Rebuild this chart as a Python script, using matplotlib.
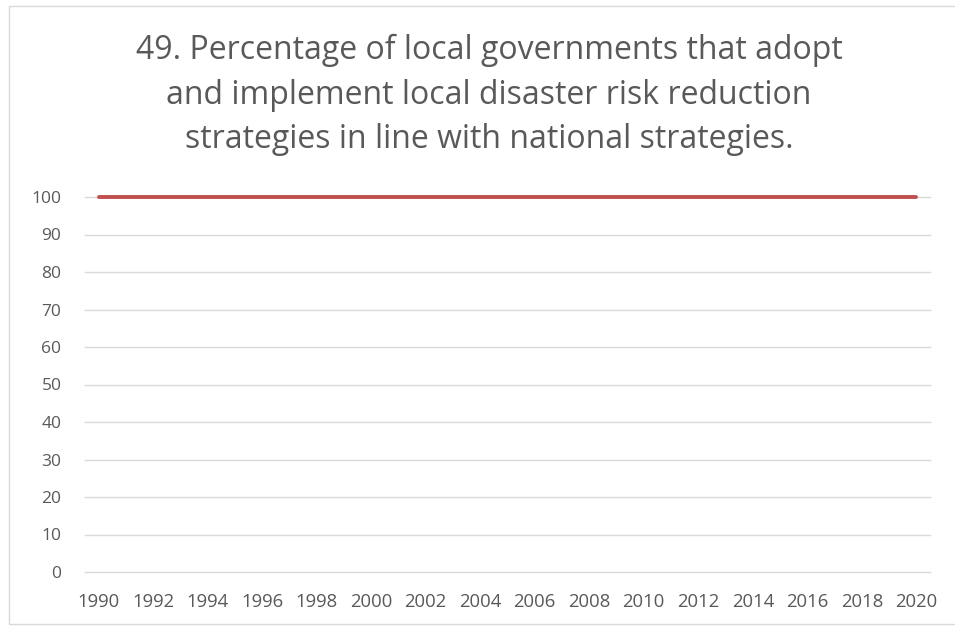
import matplotlib.pyplot as plt
from matplotlib.patches import Rectangle

# data
years = list(range(1990, 2021))
values = [100, 100, 100, 100, 100, 100, 100, 100, 100, 100,
          100, 100, 100, 100, 100, 100, 100, 100, 100, 100,
          100, 100, 100, 100, 100, 100, 100, 100, 100, 100, 100]
y_ticks = [0, 10, 20, 30, 40, 50, 60, 70, 80, 90, 100]
title_lines = [
    "49. Percentage of local governments that adopt",
    "and implement local disaster risk reduction",
    "strategies in line with national strategies.",
]

TEXT_COLOR = "#595959"
GRID_COLOR = "#d9d9d9"
LINE_COLOR = "#c0504d"

plt.rcParams["font.family"] = ["Open Sans", "DejaVu Sans"]

fig = plt.figure(figsize=(9.55, 6.27), dpi=100)
ax = fig.add_axes([85 / 955, 1 - 572 / 627, 845 / 955, 375 / 627])

x = list(range(len(years)))
ax.plot(x, values, color=LINE_COLOR, linewidth=2.8, solid_capstyle="round",
        zorder=3, clip_on=False)

ax.set_xlim(-0.5, len(years) - 0.5)
ax.set_ylim(0, 100)
ax.set_yticks(y_ticks)
ax.set_yticklabels([str(v) for v in y_ticks])
ax.set_xticks(x[::2])
ax.set_xticklabels([str(y) for y in years[::2]])

ax.grid(axis="y", color=GRID_COLOR, linewidth=1.0)
for gl in ax.get_ygridlines():
    gl.set_clip_on(False)
ax.set_axisbelow(True)
for s in ax.spines.values():
    s.set_visible(False)
ax.tick_params(axis="both", length=0, colors=TEXT_COLOR)
ax.tick_params(axis="y", pad=17, labelsize=12.5)
ax.tick_params(axis="x", pad=15, labelsize=13.3)

for i, line in enumerate(title_lines):
    fig.text(489 / 955, 1 - (50 + i * 45) / 627, line, ha="center", va="center",
             fontsize=23, color=TEXT_COLOR)

# chart area border
fig.patches.append(Rectangle((9 / 955, 0.005), 1.2, 1 - 6 / 627 - 0.005,
                             transform=fig.transFigure, fill=False,
                             edgecolor=GRID_COLOR, linewidth=1.0))

fig.savefig("out.png", dpi=100)
